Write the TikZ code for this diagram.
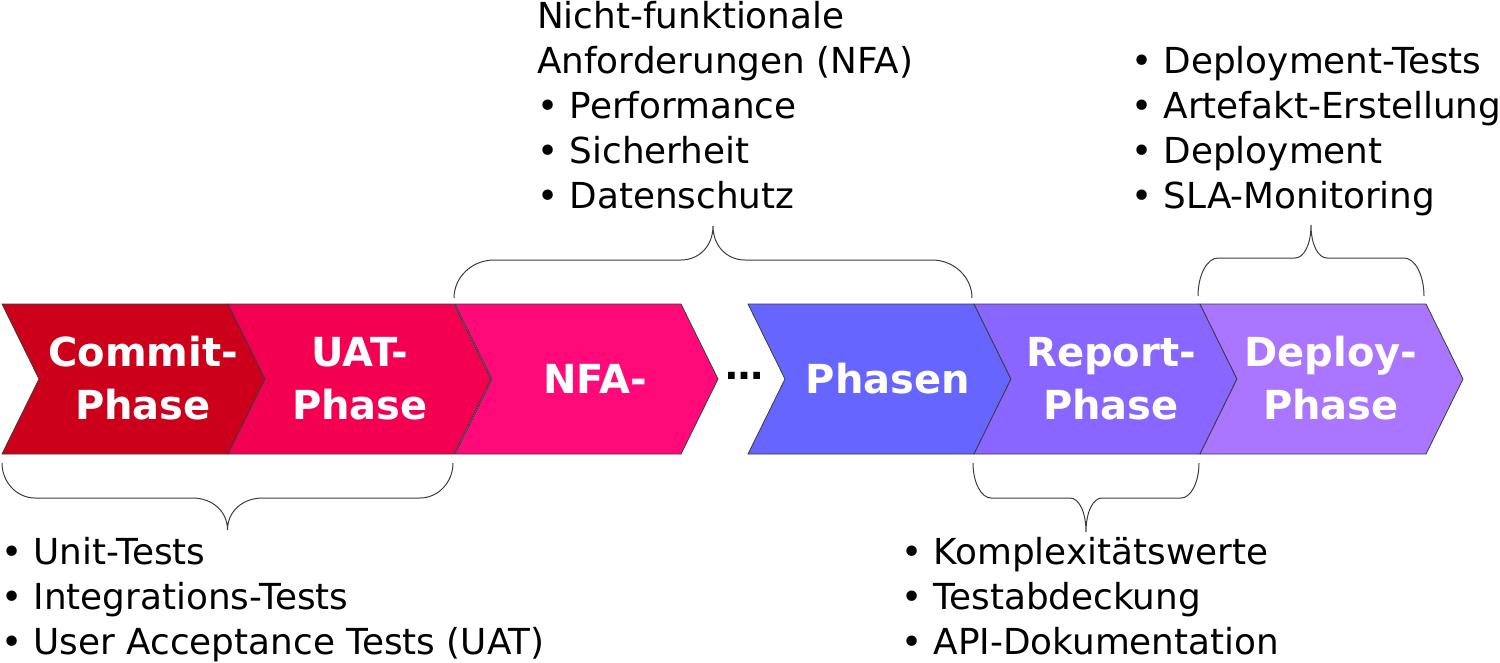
\documentclass[tikz,border=0pt]{standalone}
\usepackage{fontspec}
\setmainfont{DejaVu Sans}
\definecolor{cCommit}{RGB}{205,0,28}
\definecolor{cUAT}{RGB}{243,0,82}
\definecolor{cNFA}{RGB}{255,10,120}
\definecolor{cPhasen}{RGB}{102,102,255}
\definecolor{cReport}{RGB}{136,102,255}
\definecolor{cDeploy}{RGB}{170,118,255}
\definecolor{cLine}{RGB}{60,60,60}
\tikzset{
  chev/.style={draw=cLine, line width=0.8pt, line join=miter},
  lbl/.style={text=white, font=\fontsize{40}{53}\selectfont\bfseries, align=center, inner sep=0pt, anchor=base},
  itemlist/.style={font=\fontsize{35.8}{45}\selectfont, align=left, inner sep=0pt, anchor=base west},
  brc/.style={draw=cLine, line width=1pt},
}
\newcommand\chevronshape[3]{% name, x0, colour
  \filldraw[chev, fill=#3] (#2,304) -- ++(226,0) -- ++(37,75) -- ++(-37,75) -- ++(-226,0) -- ++(37,-75) -- cycle;
  \coordinate (#1) at (#2+131.5,379);}
\newcommand\mybrace[7]{% x1, x2, y0, h, w, t, h2
  \pgfmathsetmacro\xm{(#1+#2)/2}
  \pgfmathsetmacro\ya{#3+0.55*(#4)}
  \pgfmathsetmacro\yb{#3+(#4)}
  \pgfmathsetmacro\yc{#3+(#4)+0.4*(#7)}
  \pgfmathsetmacro\yd{#3+(#4)+(#7)}
  \pgfmathsetmacro\xa{#1+0.45*#5}
  \pgfmathsetmacro\xb{#1+#5}
  \pgfmathsetmacro\xc{\xm-#6}
  \pgfmathsetmacro\xd{\xm-0.45*#6}
  \pgfmathsetmacro\xe{\xm+0.45*#6}
  \pgfmathsetmacro\xf{\xm+#6}
  \pgfmathsetmacro\xg{#2-#5}
  \pgfmathsetmacro\xh{#2-0.45*#5}
  \draw[brc] (#1,#3) .. controls (#1,\ya) and (\xa,\yb) .. (\xb,\yb)
    -- (\xc,\yb) .. controls (\xd,\yb) and (\xm,\yc) .. (\xm,\yd)
    .. controls (\xm,\yc) and (\xe,\yb) .. (\xf,\yb)
    -- (\xg,\yb) .. controls (\xh,\yb) and (#2,\ya) .. (#2,#3);}
\begin{document}
\begin{tikzpicture}[x=1pt,y=-1pt]
\useasboundingbox (0,0) rectangle (1500,662);
% chevrons
\chevronshape{commit}{2}{cCommit}
\chevronshape{uat}{228}{cUAT}
\chevronshape{nfa}{455}{cNFA}
\chevronshape{phasen}{748}{cPhasen}
\chevronshape{report}{974}{cReport}
\chevronshape{deploy}{1200}{cDeploy}
% labels (anchor base = last line)
\node[lbl] (tcommit) at (143,419) {Commit-\\Phase};
\node[lbl] (tuat) at (360,419) {UAT-\\Phase};
\node[lbl] (tnfa) at (595,393) {NFA-};
\node[font=\fontsize{38}{40}\selectfont\bfseries, inner sep=0pt, anchor=base] (dots) at (744,379) {…};
\node[lbl] (tphasen) at (888,393) {Phasen};
\node[lbl] (treport) at (1111,419) {Report-\\Phase};
\node[lbl] (tdeploy) at (1331,419) {Deploy-\\Phase};
% braces
\mybrace{2}{453}{463}{35}{33}{35}{32}
\mybrace{973}{1199}{463}{35}{18}{16}{34}
\mybrace{454}{972}{298}{-38}{40}{32}{-34}
\mybrace{1198}{1424}{296}{-38}{20}{16}{-33}
% lists (anchor base = last line)
\node[itemlist] (lcommit) at (1,654) {• Unit-Tests\\• Integrations-Tests\\• User Acceptance Tests (UAT)};
\node[itemlist] (lnfa) at (537,208) {Nicht-funktionale\\Anforderungen (NFA)\\• Performance\\• Sicherheit\\• Datenschutz};
\node[itemlist] (ldeploy) at (1131,208) {• Deployment-Tests\\• Artefakt-Erstellung\\• Deployment\\• SLA-Monitoring};
\node[itemlist] (lreport) at (901,654) {• Komplexitätswerte\\• Testabdeckung\\• API-Dokumentation};
\end{tikzpicture}
\end{document}
